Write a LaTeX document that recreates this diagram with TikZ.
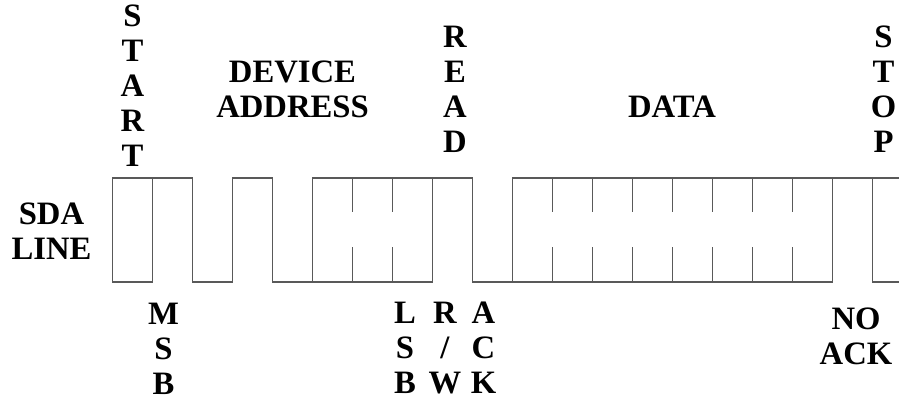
\documentclass[tikz,border=0pt]{standalone}
\usepackage{fontspec}
\setmainfont{Liberation Serif}
\usetikzlibrary{positioning}
\tikzset{
    wave/.style={line width=1pt, draw=black!65},
    lbl/.style={font=\fontsize{24.5}{26.25}\selectfont\bfseries, align=center,
      inner sep=0pt, text depth=0pt, anchor=south},
}
\begin{document}
\begin{tikzpicture}[x=0.75pt, y=-0.75pt]
    \useasboundingbox (0,0) rectangle (899,400);

    % SDA waveform
    \draw[wave] (899,178) -- (512.5,178) -- (512.5,282) -- (472.5,282) -- (472.5,178)
      -- (312.5,178) -- (312.5,282) -- (272.5,282) -- (272.5,178) -- (232.5,178)
      -- (232.5,282) -- (192.5,282) -- (192.5,178) -- (112.5,178) -- (112.5,282)
      -- (152.5,282) -- (152.5,178);
    \draw[wave] (312.5,282) -- (432.5,282) -- (432.5,178);
    \draw[wave] (512.5,282) -- (832.5,282) -- (832.5,178);
    \draw[wave] (899,282) -- (872.5,282) -- (872.5,178);
    \foreach \x in {352.5,392.5,552.5,592.5,...,792.5} {
      \draw[wave] (\x,178) -- (\x,212);
      \draw[wave] (\x,247) -- (\x,282);
    }

    % labels above
    \node[lbl] (start) at (132.5,167) {S\\T\\A\\R\\T};
    \node[lbl] (addr) at (292.5,118) {DEVICE\\ADDRESS};
    \node[lbl] (read) at (455,153) {R\\E\\A\\D};
    \node[lbl] (data) at (672,118) {DATA};
    \node[lbl] (stop) at (883.5,153) {S\\T\\O\\P};
    \node[lbl] (sda) at (51.5,260) {SDA\\LINE};

    % labels below
    \node[lbl] (msb) at (163.5,395) {M\\S\\B};
    \node[lbl] (lsb) at (405,394) {L\\S\\B};
    \node[lbl] (rw) at (445,394) {R\\/\\W};
    \node[lbl] (ack) at (483.5,394) {A\\C\\K};
    \node[lbl] (noack) at (856,365) {NO\\ACK};
\end{tikzpicture}
\end{document}
